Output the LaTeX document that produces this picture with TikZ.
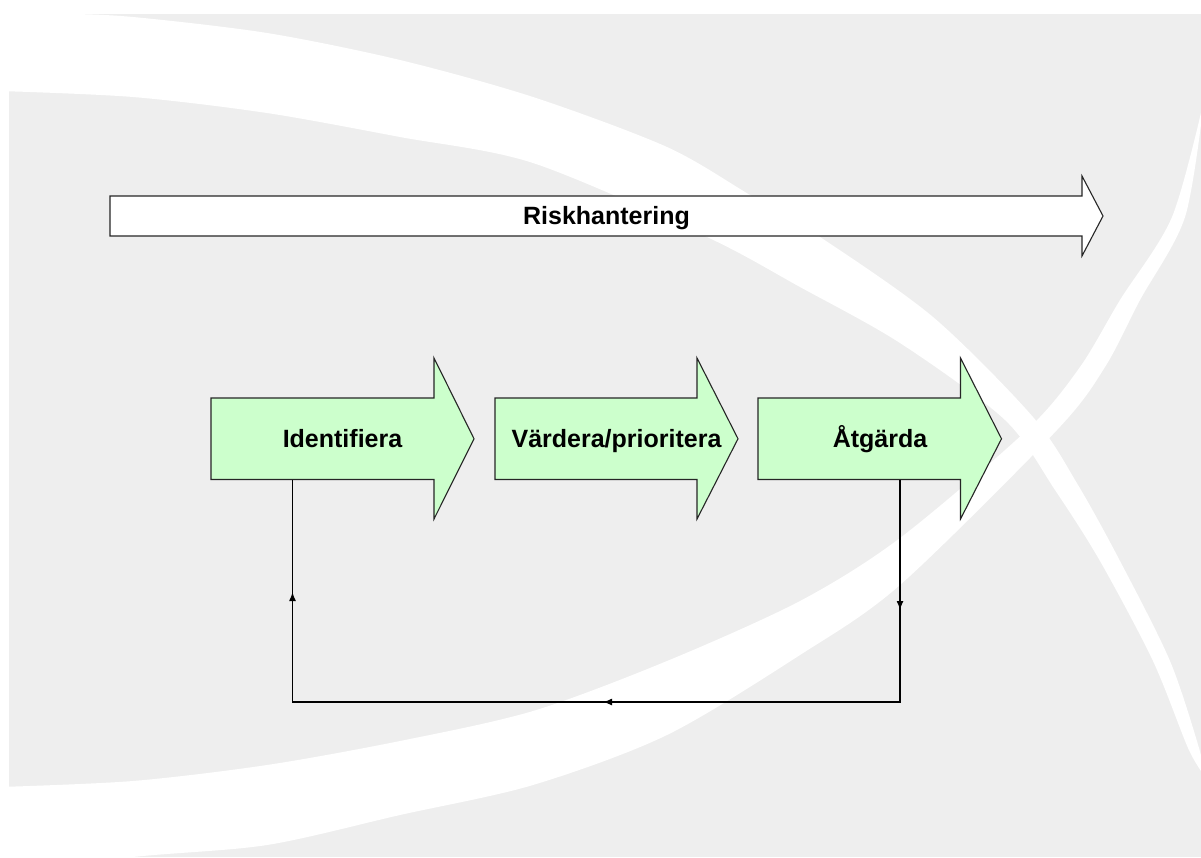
\documentclass[tikz,border=0pt]{standalone}
\usepackage{fontspec}
\setmainfont{Liberation Sans}
\usetikzlibrary{arrows.meta,decorations.markings}
\definecolor{bggray}{HTML}{EEEEEE}
\definecolor{boxgreen}{HTML}{CCFFCC}
\newcommand\blockarrow[8]{%
  \draw[#1] (#2,#5) -- (#3,#5) -- (#3,#7) -- (#4,{(#5+#6)/2}) -- (#3,#8) -- (#3,#6) -- (#2,#6) -- cycle;}
\begin{document}
\begin{tikzpicture}[x=1pt,y=-1pt,
  shapeline/.style={draw=black!85, line width=1.1pt, line join=miter},
  greenarrow/.style={shapeline, fill=boxgreen},
  whitearrow/.style={shapeline, fill=white},
  lbl/.style={font=\fontsize{25}{30}\selectfont\bfseries, inner sep=0pt, anchor=base},
  loopline/.style={line width=1.4pt, draw=black},
  tipmark/.style={decoration={markings,
      mark=at position 130.5pt with {\arrow{Latex[length=9pt,width=7pt]}},
      mark=at position 519.5pt with {\arrow{Latex[length=9pt,width=7pt]}},
      mark=at position 940pt with {\arrow{Latex[length=9pt,width=7pt]}}},
    postaction={decorate}},
  swoosh/.style={fill=white, draw=none},
]
\useasboundingbox (0,0) rectangle (1201,857);
% background
\fill[bggray] (9,14) rectangle (1201,857);
\begin{scope}
\clip (9,14) rectangle (1201,857);
% upper swoosh (top left to bottom right)
\fill[swoosh] plot[smooth, tension=0.5] coordinates {(0,12) (60,13.5) (133,17) (267,33) (400,60) (533,97) (667,147) (750,195) (820,237) (933,317) (1033,417) (1078,485) (1120,561) (1170,661) (1199,748) (1204,775)}
  -- plot[smooth, tension=0.5] coordinates {(1204,775) (1188,748) (1153,661) (1100,561) (1055,490) (1005,420) (900,343) (800,287) (707,237) (533,163) (400,137) (267,113) (133,97) (0,91)} -- cycle;
% lower swoosh (bottom left to top right)
\fill[swoosh] plot[smooth, tension=0.5] coordinates {(0,875) (133,857) (267,845) (400,815) (533,785) (667,735) (800,655) (900,585) (1057,430) (1105,367) (1140,300) (1185,217) (1204,100)}
  -- plot[smooth, tension=0.5] coordinates {(1204,100) (1172,217) (1120,300) (1080,367) (1027,430) (900,538) (800,601) (667,661) (533,711) (400,741) (267,765) (133,781) (0,787)} -- cycle;
\end{scope}
% arrows
\blockarrow{whitearrow}{110}{1082}{1103}{196}{236}{176}{256}
\blockarrow{greenarrow}{211}{434}{474}{398}{479.5}{358}{519}
\blockarrow{greenarrow}{495}{697}{738}{398}{479.5}{358}{519}
\blockarrow{greenarrow}{758}{960.5}{1001.5}{398}{479.5}{358}{519}
% labels
\node[lbl] (risk) at (606.5,224) {Riskhantering};
\node[lbl] (id) at (342.5,447) {Identifiera};
\node[lbl] (vp) at (616.5,447) {Värdera/prioritera};
\node[lbl] (atg) at (880,447) {Åtgärda};
% feedback loop
\coordinate (atgbot) at (900,479.5);
\coordinate (idbot) at (292.5,479.5);
\coordinate (c1) at (900,702);
\coordinate (c2) at (292.5,702);
\draw[loopline, tipmark] (atgbot) -- (c1) -- (c2) -- (idbot);
\end{tikzpicture}
\end{document}
